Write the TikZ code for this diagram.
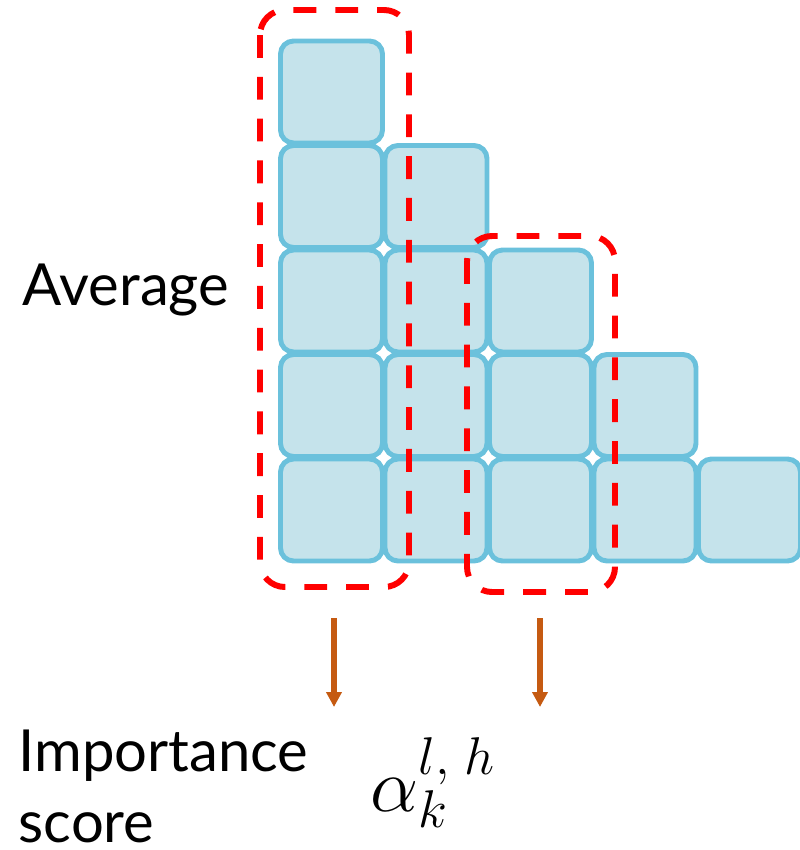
\documentclass[tikz,border=0pt]{standalone}
\usepackage{fontspec}
\setmainfont{Lato}
\usetikzlibrary{arrows.meta}

\definecolor{cellfill}{HTML}{C5E3EB}
\definecolor{celledge}{HTML}{6BC1DC}
\definecolor{arrowbrown}{HTML}{C55A11}

\tikzset{
  cell/.style={draw=celledge,fill=cellfill,line width=2.8pt,rounded corners=0.26cm,
    minimum size=2.04cm,inner sep=0pt},
  groupbox/.style={draw=red,line width=3.4pt,dash pattern=on 13pt off 10.8pt,rounded corners=0.5cm},
  lbl/.style={inner sep=0pt,anchor=base west,font=\fontsize{33}{40.4}\selectfont}
}

\begin{document}
\begin{tikzpicture}[line width=0.8pt,>={Triangle[length=8.5pt,width=8.5pt]}]
  \useasboundingbox (0,0) rectangle (15.98,-17);
  % staircase of cells: column i holds rows i..5
  \foreach \i in {1,...,5}{
    \foreach \j in {\i,...,5}{
      \node[cell] (c\i\j) at ({6.63+2.09*(\i-1)},{-1.84-2.09*(\j-1)}) {};}}
  % dashed groups
  \draw[groupbox] (5.2,-0.2) rectangle (8.18,-11.74);
  \draw[groupbox] (9.34,-4.72) rectangle (12.3,-11.84);
  % arrows down to the score
  \coordinate (a1) at (6.68,-12.36); \coordinate (b1) at (6.68,-14.14);
  \coordinate (a2) at (10.8,-12.36); \coordinate (b2) at (10.8,-14.14);
  \draw[arrowbrown,line width=3pt,->] (a1) -- (b1);
  \draw[arrowbrown,line width=3pt,->] (a2) -- (b2);
  % labels
  \node[lbl] (avg) at (0.44,-6.1) {Average};
  \node[lbl,align=left] (imp) at (0.36,-16.84) {Importance\\score};
  \node[inner sep=0pt,anchor=base west,scale=2.1,font=\fontsize{20}{24}\selectfont] (alpha) at (7.38,-16.22) {$\alpha_k^{l,\;h}$};
\end{tikzpicture}
\end{document}
